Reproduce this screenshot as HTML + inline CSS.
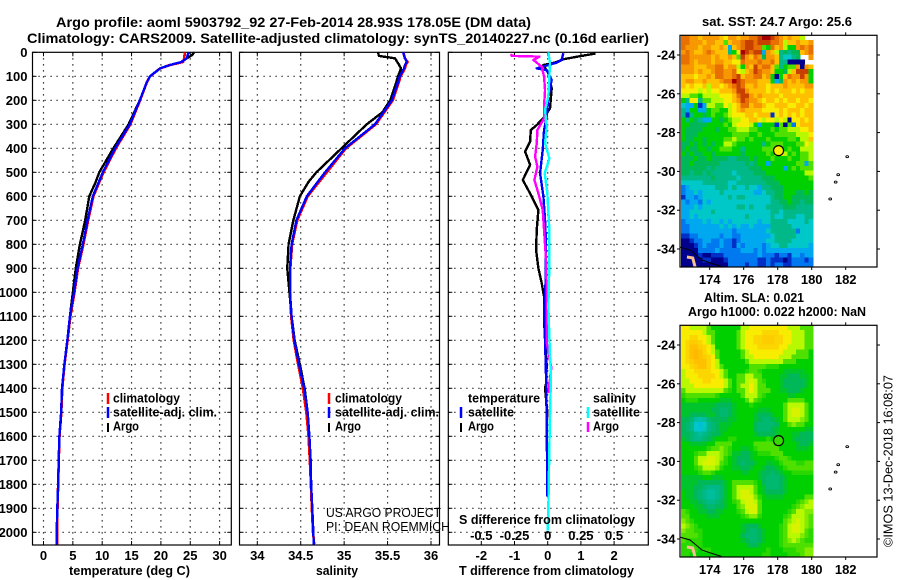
<!DOCTYPE html>
<html lang="en">
<head>
<meta charset="utf-8">
<title>Argo profile 5903792_92</title>
<style>
html,body{margin:0;padding:0;background:#fff;width:900px;height:580px;overflow:hidden}
svg{display:block}
text{font-family:"Liberation Sans",sans-serif;font-weight:bold;fill:#000}
.thin{font-weight:normal}
</style>
</head>
<body>
<svg id="chart" xmlns="http://www.w3.org/2000/svg" width="900" height="580" viewBox="0 0 900 580">
<rect x="0" y="0" width="900" height="580" fill="#fff"/>
<g id="maps"></g>
<g id="panels"></g>

<text x="56" y="27" font-size="14" textLength="475" lengthAdjust="spacingAndGlyphs">Argo profile: aoml 5903792_92 27-Feb-2014 28.93S 178.05E (DM data)</text>
<text x="27" y="43" font-size="14" textLength="622" lengthAdjust="spacingAndGlyphs">Climatology: CARS2009. Satellite-adjusted climatology: synTS_20140227.nc (0.16d earlier)</text>

<text x="69" y="575" font-size="13" textLength="121" lengthAdjust="spacingAndGlyphs">temperature (deg C)</text>
<text x="316" y="575" font-size="13" textLength="42" lengthAdjust="spacingAndGlyphs">salinity</text>
<text x="459" y="575" font-size="13" textLength="175" lengthAdjust="spacingAndGlyphs">T difference from climatology</text>
<text x="459" y="524" font-size="13" textLength="176" lengthAdjust="spacingAndGlyphs">S difference from climatology</text>

<g>
<line x1="108" x2="108" y1="393" y2="404" stroke="#f00" stroke-width="2.5"/>
<text x="113" y="402.5" font-size="13" textLength="67" lengthAdjust="spacingAndGlyphs">climatology</text>
<line x1="108" x2="108" y1="407" y2="418" stroke="#00f" stroke-width="2.5"/>
<text x="113" y="416.5" font-size="13" textLength="104" lengthAdjust="spacingAndGlyphs">satellite-adj. clim.</text>
<line x1="108" x2="108" y1="423" y2="432" stroke="#000" stroke-width="2"/>
<text x="113" y="430.5" font-size="13" textLength="26" lengthAdjust="spacingAndGlyphs">Argo</text>
</g>
<g>
<line x1="329" x2="329" y1="393" y2="404" stroke="#f00" stroke-width="2.5"/>
<text x="335" y="402.5" font-size="13" textLength="67" lengthAdjust="spacingAndGlyphs">climatology</text>
<line x1="329" x2="329" y1="407" y2="418" stroke="#00f" stroke-width="2.5"/>
<text x="335" y="416.5" font-size="13" textLength="104" lengthAdjust="spacingAndGlyphs">satellite-adj. clim.</text>
<line x1="329" x2="329" y1="423" y2="432" stroke="#000" stroke-width="2"/>
<text x="335" y="430.5" font-size="13" textLength="26" lengthAdjust="spacingAndGlyphs">Argo</text>
</g>
<g>
<text x="468" y="402.5" font-size="13" textLength="72" lengthAdjust="spacingAndGlyphs">temperature</text>
<line x1="461" x2="461" y1="407" y2="418" stroke="#00f" stroke-width="2.5"/>
<text x="468" y="416.5" font-size="13" textLength="46" lengthAdjust="spacingAndGlyphs">satellite</text>
<line x1="461" x2="461" y1="423" y2="432" stroke="#000" stroke-width="2"/>
<text x="468" y="430.5" font-size="13" textLength="26" lengthAdjust="spacingAndGlyphs">Argo</text>
<text x="593" y="402.5" font-size="13" textLength="43" lengthAdjust="spacingAndGlyphs">salinity</text>
<line x1="588" x2="588" y1="407" y2="418" stroke="#0ff" stroke-width="2.5"/>
<text x="593" y="416.5" font-size="13" textLength="47" lengthAdjust="spacingAndGlyphs">satellite</text>
<line x1="588" x2="588" y1="422" y2="432" stroke="#f0f" stroke-width="2.5"/>
<text x="593" y="430.5" font-size="13" textLength="26" lengthAdjust="spacingAndGlyphs">Argo</text>
</g>

<text class="thin" x="326" y="517" font-size="13" textLength="115" lengthAdjust="spacingAndGlyphs">US ARGO PROJECT</text>
<text class="thin" x="326" y="531" font-size="13" textLength="124" lengthAdjust="spacingAndGlyphs">PI: DEAN ROEMMICH</text>

<text x="702" y="26" font-size="13" textLength="150" lengthAdjust="spacingAndGlyphs">sat. SST: 24.7 Argo: 25.6</text>
<text x="704" y="302" font-size="13" textLength="100" lengthAdjust="spacingAndGlyphs">Altim. SLA: 0.021</text>
<text x="688" y="316" font-size="13" textLength="178" lengthAdjust="spacingAndGlyphs">Argo h1000: 0.022 h2000: NaN</text>
<text class="thin" transform="translate(892.5,547) rotate(-90)" x="0" y="0" font-size="13" textLength="172" lengthAdjust="spacingAndGlyphs">©IMOS 13-Dec-2018 16:08:07</text>
</svg>

<script>
// ---------- profile data ----------
const depthLevels = [0,25,40,53,67,100,125,200,300,400,500,600,700,800,900,1000,1100,1200,1300,1400,1500,1600,1700,1800,1900,2000,2050];
const tempClim = [24.1,23.95,23.8,21.55,19.86,18.15,17.6,16.45,14.8,12.33,10.22,8.5,7.6,6.8,5.88,5.28,4.58,4.1,3.58,3.2,3.03,2.72,2.6,2.5,2.38,2.3,2.3];
const tempSat = [24.7,24.4,23.55,21.55,19.86,18.15,17.6,16.4,14.7,12.2,10.1,8.4,7.5,6.7,5.8,5.2,4.5,4.06,3.55,3.15,3.0,2.7,2.6,2.5,2.35,2.25,2.25];
const tempArgoDepth = [0,12,25,40,53,67,100,125,200,300,400,500,540,600,700,800,900,1000,1100,1200,1300,1400,1500,1550];
const tempArgo = [25.65,25.3,24.4,23.5,21.55,19.86,18.15,17.6,16.4,14.5,11.9,9.5,8.9,7.8,7.1,6.2,5.5,5.0,4.5,4.06,3.55,3.15,3.0,2.9];

const salClim = [35.68,35.7,35.73,35.71,35.7,35.65,35.63,35.56,35.365,35.02,34.8,34.58,34.46,34.4,34.38,34.376,34.39,34.42,34.47,34.525,34.565,34.59,34.605,34.617,34.628,34.642,34.655];
const salSat = [35.68,35.7,35.72,35.7,35.69,35.64,35.62,35.55,35.355,35.01,34.78,34.57,34.45,34.395,34.376,34.376,34.395,34.426,34.48,34.54,34.58,34.6,34.614,34.62,34.633,34.645,34.65];
const salArgoDepth = [0,15,25,45,67,100,125,200,250,300,400,500,540,600,700,800,900,1000,1100,1200,1300,1400,1500];
const salArgo = [35.39,35.4,35.585,35.62,35.655,35.62,35.6,35.53,35.44,35.26,34.97,34.68,34.59,34.49,34.415,34.36,34.345,34.37,34.395,34.43,34.49,34.545,34.58];

const diffTArgoDepth = [5,18,29,43,53,88,150,233,271,303,324,372,414,469,532,588,657,740,824,900,962,1018,1110,1200,1304,1380,1400,1500,1546];
const diffTArgo = [1.44,0.9,0.47,0.22,-0.13,0.02,0.12,0.07,-0.11,-0.33,-0.51,-0.53,-0.68,-0.53,-0.75,-0.53,-0.28,-0.33,-0.35,-0.28,-0.18,-0.11,-0.11,-0.08,-0.03,-0.05,-0.08,-0.01,-0.03];
const diffTSatDepth = [4,32,43,53,67,74,115,185,268,324,407,504,601,699,796,990,1074,1198,1351,1546,1851];
const diffTSat = [0.47,0.42,0.27,0.02,-0.33,-0.03,0.12,0.02,-0.03,-0.11,-0.15,-0.23,-0.13,-0.08,-0.05,-0.07,-0.11,-0.08,-0.05,-0.03,-0.01];
const diffSArgoDepth = [7,15,18,32,60,101,157,226,275,324,379,435,476,532,588,657,740,865,990,1113,1210,1314,1420];
const diffSArgo = [-0.2775,-0.27,-0.0625,-0.1075,-0.045,-0.0275,-0.02,-0.0275,-0.0275,-0.0775,-0.0825,-0.095,-0.0775,-0.1,-0.07,-0.0375,-0.0275,-0.0125,-0.0075,-0.0075,-0.0075,0.0275,0.005];
const diffSSatDepth = [0,46,185,240,310,379,442,504,588,740,879,1060,1269,1340,1451,1645,1895,1993];
const diffSSat = [0.005,0.0175,0.005,-0.02,-0.0075,-0.02,0.0125,-0.0225,-0.0025,0.0125,0.0125,0.005,0.0175,0.025,0.02,0.0125,0.005,0];

const depthTicks = [0,100,200,300,400,500,600,700,800,900,1000,1100,1200,1300,1400,1500,1600,1700,1800,1900,2000];
const tempTicks = [0,5,10,15,20,25,30];
const salTicks = [34,34.5,35,35.5,36];
const diffTTicks = [-2,-1,0,1,2];
const diffSTicks = [-0.5,-0.25,0,0.25,0.5];
const diffSTickLabels = ['-0.5','-0.25','0','0.25','0.5'];

// ---------- map data: colour levels per cell, top row first, west to east ----------
const mapLons = [174,176,178,180,182];
const mapLats = [-24,-26,-28,-30,-32,-34];
const profileLon = 178.05;
const profileLat = -28.93;
const coastLon = [172.25,172.84,173.55,174.14,174.7];
const coastLat = [-33.9,-34.05,-34.57,-34.75,-34.9];
const landLon = [172.66,173.0,173.14];
const landLat = [-34.41,-34.46,-34.93];
const islandLon = [182.09,181.56,181.41,181.09];
const islandLat = [-29.24,-30.17,-30.55,-31.42];
const sstLevels = [
[13,13,12,12,11,12,12,12,12,11,10,12,12,11,12,12,13,13,14,15,15,14,13,12,11,12,11,11,9,-1,-1],
[13,13,12,12,12,11,12,12,11,11,8,11,12,12,13,14,14,13,14,14,14,13,13,12,9,11,11,12,11,11,12],
[13,12,12,12,11,12,12,11,11,12,11,3,11,12,13,14,14,13,13,8,7,13,11,12,9,7,7,12,13,12,13],
[12,13,12,11,11,12,13,12,11,11,11,5,7,10,15,14,13,14,14,3,12,11,9,5,6,5,6,6,11,12,13],
[13,13,12,12,12,12,12,11,12,11,11,12,11,8,14,12,11,13,12,6,12,12,11,5,4,4,5,6,-1,-1,12],
[13,13,12,11,12,12,12,11,12,12,11,11,10,10,13,12,12,12,13,12,12,13,11,5,5,0,0,0,0,-1,-1],
[12,12,12,11,11,11,12,12,13,13,11,12,12,9,7,12,11,14,12,13,13,11,8,5,7,8,8,12,0,12,11],
[12,12,12,11,12,11,11,12,13,13,12,12,13,10,9,11,12,14,13,12,12,11,7,7,6,9,11,14,14,14,7],
[11,11,11,10,11,11,12,11,13,13,12,12,13,14,11,12,12,13,13,11,12,7,0,7,11,13,12,12,14,12,7],
[11,12,12,11,11,12,11,11,11,12,13,13,15,14,13,12,12,12,11,11,11,7,3,6,12,11,12,11,12,12,7],
[11,10,11,10,10,11,9,11,11,10,11,12,13,14,13,11,11,12,11,11,10,11,11,11,12,11,11,11,11,12,12],
[10,10,10,10,9,10,9,10,10,11,11,11,12,14,14,12,11,11,11,11,10,11,10,11,11,11,10,11,10,11,11],
[9,9,8,8,7,9,9,9,9,10,10,10,11,13,14,14,12,11,12,11,11,11,11,10,11,11,11,11,11,11,11],
[7,5,10,10,5,8,8,9,9,9,10,10,11,12,14,13,12,12,11,10,11,11,10,11,10,11,11,10,11,11,10],
[4,3,3,7,1,3,9,9,8,8,10,9,10,11,13,13,11,12,12,11,10,10,11,11,11,10,10,11,11,10,11],
[5,3,7,7,3,3,7,8,8,7,7,9,10,11,12,11,11,11,11,10,10,10,10,11,10,11,11,11,10,11,11],
[5,1,5,7,7,6,7,8,7,7,8,9,10,10,10,11,11,10,11,11,11,1,10,11,10,11,10,11,10,11,11],
[7,5,7,6,5,3,3,7,7,6,7,8,9,9,10,10,11,11,10,9,10,10,9,10,9,0,10,10,11,10,11],
[7,7,6,6,6,6,7,7,7,7,8,7,9,10,10,10,9,7,3,7,7,7,1,8,0,8,2,10,11,11,11],
[7,6,6,6,6,7,7,7,6,7,7,8,8,9,9,9,8,8,7,7,7,8,7,8,8,9,9,9,10,10,11],
[7,6,6,6,7,7,7,7,7,7,7,7,8,8,8,8,7,7,8,7,7,7,8,8,8,8,8,9,9,9,10],
[7,6,6,7,7,6,7,7,7,7,8,8,9,8,8,7,8,7,7,7,8,7,7,7,7,8,8,7,9,9,11],
[6,6,7,6,7,6,7,6,7,7,9,9,8,7,7,7,7,7,7,5,7,8,8,8,7,7,7,8,8,10,9],
[6,7,6,6,7,7,6,7,7,8,8,8,7,7,5,7,7,7,7,8,8,8,7,8,7,8,7,7,9,9,9],
[7,6,7,6,6,7,7,6,7,7,7,7,7,7,6,7,7,7,7,7,8,7,9,10,9,7,8,7,8,8,9],
[6,6,6,7,6,6,7,6,6,6,6,5,5,6,6,6,7,6,7,7,7,8,7,7,7,8,7,7,8,8,9],
[6,6,7,6,6,6,6,6,6,5,5,5,5,5,5,6,5,6,7,7,3,7,7,7,7,7,7,8,8,3,8],
[6,6,6,6,6,6,5,6,5,5,5,5,5,5,5,5,6,6,6,7,7,7,7,7,3,7,8,7,8,8,8],
[6,6,5,6,6,5,6,5,5,5,5,5,4,5,5,5,5,6,6,6,7,7,7,7,7,7,7,7,7,9,9],
[5,5,5,5,5,5,5,6,5,5,5,5,5,4,5,5,5,5,5,6,6,6,7,7,7,7,7,7,7,7,8],
[4,4,4,4,4,5,5,5,5,5,5,4,4,5,5,5,5,5,5,5,6,6,6,7,7,7,7,7,7,7,7],
[2,3,4,4,4,4,4,4,5,5,5,4,5,4,4,5,4,4,3,5,5,6,6,6,7,7,7,7,7,7,7],
[2,3,3,4,3,4,4,4,4,5,4,4,4,4,4,4,4,3,3,4,5,5,6,6,7,7,7,6,6,7,6],
[1,3,3,2,3,4,4,4,4,4,4,5,4,5,5,4,4,4,4,4,4,5,6,6,7,7,6,6,6,6,6],
[3,2,3,3,2,4,3,4,4,4,4,4,4,4,4,4,4,4,4,4,4,5,5,6,6,7,6,6,5,6,6],
[3,3,3,4,3,4,4,4,4,4,4,4,4,5,5,4,5,4,4,4,5,5,5,5,6,6,6,5,5,5,5],
[3,3,4,4,4,4,4,5,4,4,4,4,4,4,4,4,4,4,4,4,4,5,5,4,5,5,5,5,5,5,5],
[3,3,4,3,4,4,4,4,4,4,4,4,4,4,4,5,4,4,4,4,4,5,4,4,5,5,5,4,4,5,5],
[2,3,3,3,3,4,3,4,4,3,4,3,4,4,4,4,4,4,3,4,4,5,5,5,5,4,4,4,4,5,4],
[2,2,3,3,3,3,3,3,3,4,3,4,3,4,3,3,4,3,3,3,3,5,5,5,5,5,4,4,4,4,4],
[2,2,3,3,3,3,3,3,3,3,3,3,2,3,3,3,3,3,3,3,4,5,5,5,5,5,5,2,4,4,4],
[1,1,2,2,3,3,3,3,3,2,3,3,2,2,3,3,3,3,3,3,3,4,5,5,5,5,5,4,4,4,4],
[0,0,1,2,2,3,3,2,2,3,2,2,1,2,3,3,3,3,3,3,4,4,5,5,5,5,4,4,4,4,4],
[0,0,0,1,2,3,2,2,2,3,2,2,1,3,2,3,3,3,3,2,3,4,4,5,5,4,4,4,4,4,3],
[0,0,0,0,2,2,2,2,3,2,2,2,2,2,3,3,3,2,3,2,3,3,3,3,3,3,3,3,3,3,3],
[0,0,0,0,1,0,0,1,1,1,2,2,2,2,2,2,2,2,3,2,2,2,1,2,2,1,3,3,2,3,3],
[0,0,0,0,0,1,1,0,0,0,1,2,2,2,2,2,2,2,1,1,2,1,1,1,0,1,2,2,2,1,2],
[0,0,0,0,0,0,0,0,0,0,0,2,2,2,2,1,2,2,1,1,2,1,2,2,1,1,2,2,2,2,2]
];
const slaLevels = [
[10,10,9,9,9,9,8,7,7,7,7,7,7,7,9,9,10,10,10,10,10,10,10,10,10,9,9,9,8,8,8],
[10,10,10,10,10,9,8,8,7,7,7,7,7,8,9,10,10,10,10,10.5,10.5,10.5,10.5,10,10,10,9,9,9,8,8],
[10,10,10.5,10.5,10,10,9,8,7,7,7,7,7,8,9,10,10,10.5,10.5,10.7,10.7,10.7,10.5,10.5,10,10,9,9,9,8,8],
[10,10.5,10.7,10.7,10.5,10,9,8,7,7,7,7,7,8,9,10,10,10.5,10.5,10.7,10.7,10.7,10.5,10.5,10,10,9,9,9,8,8],
[10,10.5,11,11,10.7,10.5,10,9,7,7,7,7,7,8,9,10,10,10,10.5,10.5,10.5,10.5,10.5,10,10,9,9,9,9,8,8],
[10,10.5,11,11.2,11,10.5,10,9,8,7,7,7,7,7,8,9,10,10,10,10,10,10,10,10,9,9,9,8,8,8,7],
[10,10.5,11,11.2,11,10.7,10.5,10,8,7,7,7,7,7,8,9,9,10,10,10,10,10,10,9,9,9,8,8,8,8,7],
[10,10.5,10.7,11,11,11,10.5,10,9,7,7,7,7,7,7,8,9,9,9,9,9,9,9,9,8,8,8,7,7,7,7],
[10,10,10.5,10.7,11,11,10.5,10,9,8,7,7,7,7,7,7,8,8,8,8,7.5,7.5,7.5,7,7,7,7,7,7,7,7],
[9,10,10,10.5,10.5,10.5,10.5,10,10,9,8,7,7,7,7,7.5,8,8,7.5,7,7,7,7,7,6.5,6.5,6.5,6.5,6.5,7,7],
[9,10,10,10,10.5,10.5,10.5,10.5,10,9,8,7,7,8,8,9,9,8,8,7,7,7,7,6.5,6.5,6,6,6,6.5,6.5,7],
[9,9,10,10,10,10.5,10.5,10,10,10,9,8,7,8,8,9,9.5,9,8,7.5,7,7,7,6.5,6,6,6,6,6,6.5,7],
[9,9,9,10,10,10,10,10,10,10,9,8,7,8,9,9,10,9,8,8,7,7,7,6.5,6,6,6,6,6,6.5,7],
[8,9,9,9,9,9,9,9,9,9,8,7.5,7,8,8,9,10,9,8,8,8,7,7,6.5,6.5,6,6,6,6.5,7,7],
[7.5,8,8,8,8,8,8,8,7.5,7,7,7,7,7,8,9,9,9,8,7.5,7,7,7,7,7,6.5,6.5,7,7,7,7],
[7,7.5,7.5,7.5,7,7,7,7,7,6.5,6.5,6.5,7,7,7,8,9,8,7.5,7,7,7,7,7,7,8,8,8,8,7,7],
[6.5,6.5,6.5,6.5,6.5,6.5,6.5,6.5,6,6,6,6,6.5,7,7,7,7.5,7,7,7,7,7,7,7,8,9,9,9,9,8,7],
[6.5,6.5,6.5,6.5,6.5,6.5,6.5,6,6,5.5,5.5,6,6.5,7,7,7,7,7,6.5,6.5,6.5,7,7,7,8,9,9.5,9.5,9,8,7],
[6.5,6.5,6,6,6,6,6.5,6.5,6,5.5,5.5,6,6.5,7,7,7,7,6.5,6,6,6,6.5,7,7,8,9,9.5,9.5,9,8,7],
[6,6,5.5,4.7,4.5,4.7,5.5,6,6,6,6,6.5,6.5,7,7,7,7,6.5,6,5.5,5.5,6,6.5,7,8,9,9,9,8.5,8,7],
[6,5.5,5,4,3.7,4,5,5.5,6,6.5,6.5,6.5,7,7,7,7,7,6,5.5,5.5,5.5,5.5,6,7,7,8,8.5,8,8,7,7],
[6,5.5,5,4,3.8,4.2,5,5.5,6,6.5,6.5,7,7,7,7,7,7,6,5.5,5.5,5.5,6,6.5,7,7,7,7,7,7,6.5,6.5],
[6,6,5.5,5,4.7,5,5.5,6,6,6.5,7,7,7,7,7,7,7,6.5,6,6,6,6,6.5,7,7,7,6.5,6.5,6,6,6],
[6.5,6,5.5,5,5,5.5,6,6.5,7,7,7,7.5,7.5,7,7,7,7,7,7,7,7.5,7,7,7,7,7,6.5,6,6,6,6],
[7,7,6.5,6.5,6.5,6.5,7,7,8,8,8,8,7,7,7,7,7,8,8,8,8,8,7,7,7,7,7,6.5,6,6,6.5],
[7,7,7,7,7,7,7.5,8,8,8.5,8,7.5,7,7,6.5,6.5,7,7.5,8,8,8,8,8,7,7,7,7,6.5,6.5,6.5,7],
[7,7,7,7.5,8,8,9,9,9,8.5,8,7.5,6.5,6.5,6,6,6.5,7,7.5,7.5,7.5,8,8,8,7,7,7,7,7,7,7],
[7,7,7,8,9,9,9.5,9.5,9,8.5,7.5,7,6.5,6,6,6,6.5,7,7,7,7,7,7.5,8,8,7.5,7,7,7,7,7],
[7,7,7,8,9,9.5,9.5,9.5,9,8,7.5,7,6.5,6,5.5,6,6,6.5,7,7,6.5,6.5,7,7.5,8,8,8,7.5,7.5,8,8],
[7,7,7,7.5,8,9,9,9,8.5,7.5,7,7,6.5,6.5,6,6,6.5,7,7,6.5,6,6,6.5,7,7.5,8,8,8,8,8,8],
[7,7,7,7,7.5,8,8,7.5,7,7,7,7,7,7,6.5,6.5,7,7,6.5,6,6,5.5,6,6.5,7,7,7.5,7.5,7.5,7.5,7.5],
[6.5,6.5,6.5,6.5,6.5,7,7,6.5,6.5,6.5,7,7,7,7,7,7,7,7,6.5,6,5.5,5.5,5.5,6,6.5,7,7,7,7,7,7],
[6.5,6.5,6.5,6.5,6,6,6,6,6,6,6.5,7,8,8,8,8,8,7.5,7,6,5.5,5.5,5.5,6,6.5,7,7,7,7,7,7],
[6.5,6.5,6.5,6,6,5.5,5,5,5,5.5,6.5,7,8,9,9,9,9,8,7,6.5,5.5,5.5,5.5,6,6.5,7,7,7,7,7,7],
[7,6.5,6.5,6,5.5,5,4.7,4.7,5,5.5,6.5,7,8,9,9.5,9.5,9,8,7,6.5,6,6,6,6,6.5,7,7,7,7,7,7],
[7,6.5,6.5,6,5.5,5,4.7,4.7,5,5.5,6.5,7,8,9,9.5,9.5,9.5,8.5,7.5,7,6.5,6.5,6.5,6.5,7,7,7,7,7,8,8],
[7,7,6.5,6.5,6,5.5,5,5,5.5,6,6.5,7,7.5,8,9,9.5,9.5,9,8,7,7,7,7,7,7,7,7,7.5,8,8.5,9],
[7,7,7,6.5,6.5,6,5.5,5.5,6,6,6.5,7,7,8,8.5,9.5,9.5,9.5,8,7,7,7,7,7,7,7,7.5,8,8.5,9,9],
[8,7.5,7,7,6.5,6.5,6,6,6.5,6.5,7,7,7,7.5,8,9,9.5,9.5,8,7,7,7,7,7,7,7.5,8,9,9,8.5,8.5],
[8,8,7,7,7,7,6.5,6.5,6.5,7,7,7,7,7,7.5,8,8.5,8.5,7.5,7,7,7,7,7,7.5,8,9,9,9,8.5,8],
[8.5,8,7.5,7,7,7,7,7,7,7,7,7,7,7,7,7,7,7,7,7,7,7,7,7,8,8.5,9,9.5,9,8.5,8],
[9,8.5,8,7.5,7,7,7,7,7,7,7,7,7,7,6.5,6,6,6,6.5,7,7,7,7,7.5,8,9,9.5,9.5,9,8.5,8],
[8.5,8,8,7.5,7.5,7,7,7,7,7,7,7,7,7,6.5,6,5.5,5.5,6,6.5,7,7,7,7.5,8,9,9.5,9.5,9,8,7.5],
[8,8,8,8,7.5,7,7,7,7,7,7,7,7,7,6,5.5,5.5,5.5,6,6.5,7,7,7,7.5,8,9,9,9,8.5,8,7.5],
[8,7.5,7.5,7.5,7.5,7,7,7,7,7,7,7,7,7,6.5,6,5.5,5.5,6,6.5,7,7,7,7.5,8,8.5,9,8.5,8,7.5,7.5],
[7.5,7.5,7.5,7.5,7.5,7,7,7,7,7,7,7,7,7,7,6.5,6,6,6.5,7,7,7,7,7.5,8,8,8,8,8,8,8],
[7.5,7.5,7.5,7.5,7,7.5,7.5,7,7,7,7,7,7,7,7,7,7,7,7,7,7.5,7,7,7,7.5,7.5,7.5,8,8,8.5,8.5],
[7.5,7.5,7,7,7,7,7,7,7,7,7,7,7,7,7,7,7,7,7,7.5,7.5,7,7,7,7,7.5,7.5,7.5,8,8.5,8.5]
];
const colourStops = ['#00008c','#0030c8','#0078f0','#00a8f0','#00c8c8','#00b888','#00b858','#00d000','#50e000','#b8f800','#f8ec00','#ffc000','#f89800','#e87000','#c84000','#a80000'];

// ---------- axis functions ----------
const depthY = d => 52.3 + 0.24 * d;
const tempX = t => 43.5 + 5.87 * t;
const salX = s => 257.3 + 86.85 * (s - 34);
const diffTX = t => 547.7 + 33.2 * t;
const diffSX = s => 547.7 + 132.8 * s;
const lonX = lon => 777.7 + 17 * (lon - 178);
const latY = (lat, off) => off + 55 + 19.4 * (-24 - lat);

const NS = 'http://www.w3.org/2000/svg';
function make(tag, parent) {
  const e = document.createElementNS(NS, tag);
  parent.appendChild(e);
  return e;
}
function setGeom(e, o) {
  for (const k in o) e.setAttribute(k, o[k]);
}
function hexRgb(h) {
  return [parseInt(h.slice(1,3),16), parseInt(h.slice(3,5),16), parseInt(h.slice(5,7),16)];
}
function levelColour(v) {
  if (v < 0) return '#fff';
  const i = Math.min(Math.floor(v), colourStops.length - 1);
  const j = Math.min(i + 1, colourStops.length - 1);
  const f = v - i;
  const a = hexRgb(colourStops[i]);
  const b = hexRgb(colourStops[j]);
  const c = a.map((x, n) => Math.round(x + (b[n] - x) * f));
  return 'rgb(' + c.join(',') + ')';
}

// ---------- profile panels ----------
const panelsG = document.getElementById('panels');
const panelBoxes = [
  {key:'temperature', x0:32.5, x1:231.3},
  {key:'salinity', x0:239.5, x1:439.5},
  {key:'difference', x0:448.3, x1:648.3}
];
const panelTop = 52.3;
const panelBottom = 545;

function drawDepthGrid(g, box) {
  depthTicks.forEach(d => {
    const y = depthY(d);
    if (d > 0) {
      const ln = make('line', g);
      
      
      setGeom(ln, {x1:box.x0, x2:box.x1, y1:y, y2:y, stroke:'#000', 'stroke-width':1.2, 'stroke-dasharray':'1.2 4.8'});
    }
    [[box.x0, box.x0 + 4], [box.x1 - 4, box.x1]].forEach(p => {
      const t = make('line', g);
      
      
      setGeom(t, {x1:p[0], x2:p[1], y1:y, y2:y, stroke:'#000', 'stroke-width':1});
    });
  });
}
function drawXTicks(g, ticks, xf, labels, box) {
  ticks.forEach((v, i) => {
    const x = xf(v);
    const ln = make('line', g);
    
    
    setGeom(ln, {x1:x, x2:x, y1:panelTop, y2:panelBottom, stroke:'#000', 'stroke-width':1.2, 'stroke-dasharray':'1.2 4.8'});
    [[panelTop, panelTop + 4], [panelBottom - 4, panelBottom]].forEach(p => {
      const t = make('line', g);
      
      
      setGeom(t, {x1:x, x2:x, y1:p[0], y2:p[1], stroke:'#000', 'stroke-width':1});
    });
    const lab = make('text', g);
    
    
    setGeom(lab, {x:x, y:560, 'font-size':13, 'text-anchor':'middle'});
    lab.textContent = labels ? labels[i] : String(v);
  });
}
function drawBox(g, box) {
  const r = make('rect', g);
  
  
  setGeom(r, {x:box.x0, y:panelTop, width:box.x1 - box.x0, height:panelBottom - panelTop, fill:'none', stroke:'#000', 'stroke-width':1.2});
}
function pointsOf(xs, depths, xf) {
  return xs.map((v, i) => xf(v).toFixed(2) + ',' + depthY(depths[i]).toFixed(2)).join(' ');
}
function drawLine(g, name, xs, depths, xf, colour, w) {
  const p = make('polyline', g);
  
  
  setGeom(p, {points:pointsOf(xs, depths, xf), fill:'none', stroke:colour, 'stroke-width':w, 'stroke-linejoin':'round', 'shape-rendering':'crispEdges'});
}

// temperature panel
const gT = make('g', panelsG);


drawDepthGrid(gT, panelBoxes[0]);
drawXTicks(gT, tempTicks, tempX, null, panelBoxes[0]);
drawBox(gT, panelBoxes[0]);
drawLine(gT, 'temperature-climatology-line', tempClim, depthLevels, tempX, '#f00', 2.6);
drawLine(gT, 'temperature-argo-line', tempArgo, tempArgoDepth, tempX, '#000', 2.4);
drawLine(gT, 'temperature-satellite-line', tempSat, depthLevels, tempX, '#00f', 2.4);

// salinity panel
const gS = make('g', panelsG);


drawDepthGrid(gS, panelBoxes[1]);
drawXTicks(gS, salTicks, salX, null, panelBoxes[1]);
drawBox(gS, panelBoxes[1]);
drawLine(gS, 'salinity-climatology-line', salClim, depthLevels, salX, '#f00', 2.6);
drawLine(gS, 'salinity-argo-line', salArgo, salArgoDepth, salX, '#000', 2.4);
drawLine(gS, 'salinity-satellite-line', salSat, depthLevels, salX, '#00f', 2.4);

// difference panel
const gD = make('g', panelsG);


drawDepthGrid(gD, panelBoxes[2]);
drawXTicks(gD, diffTTicks, diffTX, null, panelBoxes[2]);
drawBox(gD, panelBoxes[2]);
diffSTicks.forEach((v, i) => {
  const lab = make('text', gD);
  
  
  setGeom(lab, {x:diffSX(v), y:540, 'font-size':13, 'text-anchor':'middle'});
  lab.textContent = diffSTickLabels[i];
});
drawLine(gD, 't-difference-argo-line', diffTArgo, diffTArgoDepth, diffTX, '#000', 2.4);
drawLine(gD, 't-difference-satellite-line', diffTSat, diffTSatDepth, diffTX, '#00f', 2.4);
drawLine(gD, 's-difference-argo-line', diffSArgo, diffSArgoDepth, diffSX, '#f0f', 2.4);
drawLine(gD, 's-difference-satellite-line', diffSSat, diffSSatDepth, diffSX, '#0ff', 2.4);

// depth tick labels (left of temperature panel)
depthTicks.forEach(d => {
  const lab = make('text', panelsG);
  
  
  setGeom(lab, {x:27.5, y:depthY(d) + 4.5, 'font-size':13, 'text-anchor':'end'});
  lab.textContent = String(d);
});

// ---------- maps ----------
const mapsG = document.getElementById('maps');
function drawMap(off, levels, name, markerLevel) {
  const g = make('g', mapsG);
  
  
  const left = 681, top = 35.3 + off, cw = 132 / 31, ch = 232 / 48;
  levels.forEach((row, r) => {
    row.forEach((v, c) => {
      if (v < 0) return;
      const cell = make('rect', g);
      
      
      setGeom(cell, {x:(left + c * cw).toFixed(2), y:(top + r * ch).toFixed(2), width:(cw + 0.4).toFixed(2), height:(ch + 0.4).toFixed(2), fill:levelColour(v), 'shape-rendering':'crispEdges'});
    });
  });
  const land = make('polyline', g);
  
  
  setGeom(land, {points:landLon.map((x, i) => lonX(x).toFixed(1) + ',' + latY(landLat[i], off).toFixed(1)).join(' '), fill:'none', stroke:'#f8c090', 'stroke-width':3});
  const coast = make('polyline', g);
  
  
  setGeom(coast, {points:coastLon.map((x, i) => lonX(x).toFixed(1) + ',' + latY(coastLat[i], off).toFixed(1)).join(' '), fill:'none', stroke:'#000', 'stroke-width':1});
  islandLon.forEach((x, i) => {
    const isl = make('ellipse', g);
    
    
    setGeom(isl, {cx:lonX(x), cy:latY(islandLat[i], off), rx:1.4, ry:1, fill:'#fff', stroke:'#000', 'stroke-width':0.9});
  });
  const fr = make('rect', g);
  
  
  setGeom(fr, {x:680, y:35.3 + off, width:197, height:231.7, fill:'none', stroke:'#000', 'stroke-width':1.2});
  mapLons.forEach(lon => {
    const x = lonX(lon);
    [[32.3, 35.3], [267, 270]].forEach(p => {
      const t = make('line', g);
      
      
      setGeom(t, {x1:x, x2:x, y1:p[0] + off, y2:p[1] + off, stroke:'#000', 'stroke-width':1});
    });
    const lab = make('text', g);
    
    
    setGeom(lab, {x:x, y:284 + off, 'font-size':13, 'text-anchor':'middle'});
    lab.textContent = String(lon);
  });
  mapLats.forEach(lat => {
    const y = latY(lat, off);
    [[677, 680], [877, 880]].forEach(p => {
      const t = make('line', g);
      
      
      setGeom(t, {x1:p[0], x2:p[1], y1:y, y2:y, stroke:'#000', 'stroke-width':1});
    });
    const lab = make('text', g);
    
    
    setGeom(lab, {x:675.5, y:y + 4.5, 'font-size':13, 'text-anchor':'end'});
    lab.textContent = String(lat);
  });
  const marker = make('circle', g);
  
  
  setGeom(marker, {cx:lonX(profileLon), cy:latY(profileLat, off), r:5, fill:levelColour(markerLevel), stroke:'#000', 'stroke-width':1.2});
}
drawMap(0, sstLevels, 'sst-map', 10);
drawMap(290, slaLevels, 'sla-map', 7.7);
</script>
</body>
</html>
